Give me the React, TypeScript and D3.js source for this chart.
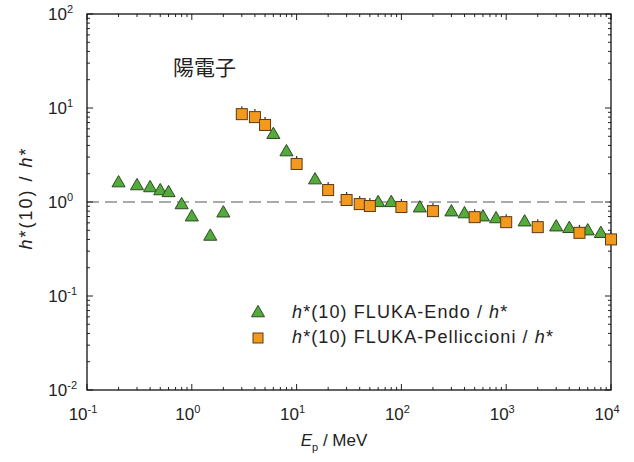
import React from "react";
import * as d3 from "d3";

// h*(10) FLUKA-Endo / h*
const endoE = [0.2, 0.3, 0.4, 0.5, 0.6, 0.8, 1.0, 1.5, 2.0, 6, 8, 15, 60, 80, 150, 300, 400, 600, 800, 1500, 3000, 4000, 6000, 8000];
const endoV = [1.59, 1.48, 1.41, 1.31, 1.25, 0.93, 0.69, 0.43, 0.76, 5.2, 3.4, 1.71, 0.98, 0.98, 0.86, 0.78, 0.745, 0.69, 0.66, 0.61, 0.54, 0.52, 0.49, 0.46];

// h*(10) FLUKA-Pelliccioni / h*
const pellE = [3, 4, 5, 10, 20, 30, 40, 50, 100, 200, 500, 1000, 2000, 5000, 10000];
const pellV = [8.6, 8.0, 6.6, 2.54, 1.34, 1.05, 0.95, 0.906, 0.885, 0.8, 0.69, 0.61, 0.54, 0.47, 0.4];

const xDecades = [-1, 0, 1, 2, 3, 4];
const yDecades = [-2, -1, 0, 1, 2];

const W = 634;
const H = 462;
const left = 87;
const right = 611;
const top = 14;
const bottom = 390;

const font = "'Liberation Sans', Arial, sans-serif";
const textColor = "#222";

export default function App() {
  const x = d3.scaleLog().domain([0.1, 10000]).range([left, right]);
  const y = d3.scaleLog().domain([0.01, 100]).range([bottom, top]);

  const xTicks = x.ticks();
  const yTicks = y.ticks();
  const isMajor = (v: number) => Math.abs(Math.log10(v) - Math.round(Math.log10(v))) < 1e-6;

  const tri = d3.symbol().type(d3.symbolTriangle).size(74)();

  return (
    <svg width={W} height={H} style={{ position: "absolute", left: 0, top: 0, background: "#fff" }}>
      {/* reference line */}
      <line x1={left} x2={right} y1={y(1)} y2={y(1)} stroke="#aaa" strokeWidth={2} strokeDasharray="12,6" />

      {/* ticks */}
      {xTicks.map((t, i) => {
        const len = isMajor(t) ? 6 : 3;
        return (
          <g key={"xt" + i} stroke="#222" strokeWidth={1}>
            <line x1={x(t)} x2={x(t)} y1={bottom} y2={bottom - len} />
            <line x1={x(t)} x2={x(t)} y1={top} y2={top + len} />
          </g>
        );
      })}
      {yTicks.map((t, i) => {
        const len = isMajor(t) ? 6 : 3;
        return (
          <g key={"yt" + i} stroke="#222" strokeWidth={1}>
            <line x1={left} x2={left + len} y1={y(t)} y2={y(t)} />
            <line x1={right} x2={right - len} y1={y(t)} y2={y(t)} />
          </g>
        );
      })}

      <rect x={left} y={top} width={right - left} height={bottom - top} fill="none" stroke="#111" strokeWidth={1.3} />

      {/* tick labels */}
      {xDecades.map((d) => (
        <text key={"xl" + d} x={x(Math.pow(10, d)) - 4} y={420} textAnchor="middle" fontFamily={font} fontSize={17} fill={textColor}>
          10
          <tspan dy={-7} fontSize={11}>{d}</tspan>
        </text>
      ))}
      {yDecades.map((d) => (
        <text key={"yl" + d} x={d < 0 ? 77 : 73} y={y(Math.pow(10, d)) + 6} textAnchor="end" fontFamily={font} fontSize={17} fill={textColor}>
          10
          <tspan dy={-7} fontSize={11}>{d}</tspan>
        </text>
      ))}

      {/* axis titles */}
      <text x={334} y={446} textAnchor="middle" fontFamily={font} fontSize={17} fill={textColor}>
        <tspan fontStyle="italic">E</tspan>
        <tspan dy={5} fontSize={11}>p</tspan>
        <tspan dy={-5}> / MeV</tspan>
      </text>
      <text transform={`translate(32,${(top + bottom) / 2 - 4}) rotate(-90)`} textAnchor="middle" fontFamily={font} fontSize={18} letterSpacing={2} fill={textColor}>
        <tspan fontStyle="italic">h</tspan>
        <tspan>*(10) / </tspan>
        <tspan fontStyle="italic">h</tspan>
        <tspan>*</tspan>
      </text>

      <text x={173} y={75} fontFamily="'Noto Sans CJK JP', sans-serif" fontSize={21} fill="#222">陽電子</text>

      {/* Endo triangles */}
      {endoE.map((e, i) => (
        <path key={"en" + i} d={tri as string} transform={`translate(${x(e)},${y(endoV[i])})`} fill="#55aa3c" stroke="#2b4a22" strokeWidth={1} />
      ))}

      {/* Pelliccioni squares */}
      {pellE.map((e, i) => (
        <g key={"pe" + i}>
          <line x1={x(e)} x2={x(e)} y1={y(pellV[i]) - 5.5} y2={y(pellV[i]) - 8} stroke="#333" strokeWidth={1.2} />
          <rect x={x(e) - 5.5} y={y(pellV[i]) - 5.5} width={11} height={11} fill="#f39a1e" stroke="#5a3a14" strokeWidth={1} />
        </g>
      ))}

      {/* legend */}
      <path d={tri as string} transform="translate(258,313)" fill="#55aa3c" stroke="#2b4a22" strokeWidth={1} />
      <rect x={253} y={333} width={10} height={10} fill="#f39a1e" stroke="#5a3a14" strokeWidth={1} />
      <text x={292} y={318} fontFamily={font} fontSize={18} letterSpacing={1.1} fill={textColor}>
        <tspan fontStyle="italic">h</tspan>
        <tspan>*(10) FLUKA-Endo / </tspan>
        <tspan fontStyle="italic">h</tspan>
        <tspan>*</tspan>
      </text>
      <text x={292} y={343} fontFamily={font} fontSize={18} letterSpacing={1.1} fill={textColor}>
        <tspan fontStyle="italic">h</tspan>
        <tspan>*(10) FLUKA-Pelliccioni / </tspan>
        <tspan fontStyle="italic">h</tspan>
        <tspan>*</tspan>
      </text>
    </svg>
  );
}
